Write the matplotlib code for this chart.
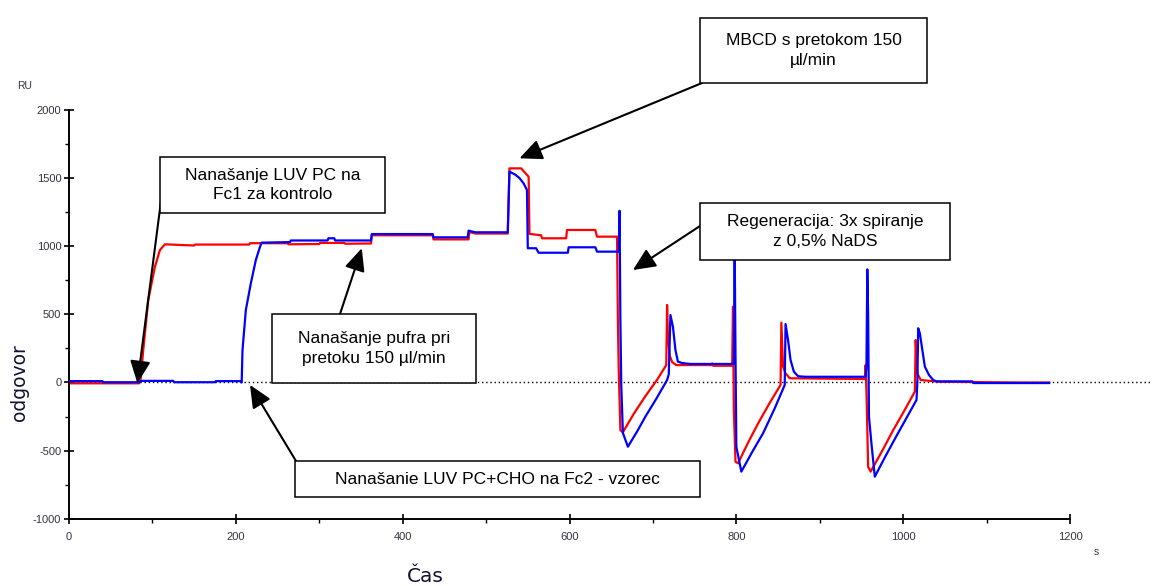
import matplotlib
matplotlib.use("Agg")
import matplotlib.pyplot as plt
from matplotlib.patches import Rectangle
from matplotlib.ticker import MultipleLocator

plt.rcParams["axes.unicode_minus"] = False

W, H = 1152, 586

# sensorgram, Fc1 (kontrola) - red
red_t = [0, 84, 86, 89, 95, 103, 109, 115, 150, 151, 216, 217, 262, 263, 300, 301,
         330, 331, 362, 363, 436, 437, 479, 480, 487, 526, 528, 542, 551, 552,
         566, 567, 596, 597, 631, 633, 657, 658, 659, 661, 664, 677, 691, 705,
         716, 717, 718, 720, 723, 728, 770, 771, 772, 795, 796, 797, 799, 802,
         815, 827, 840, 853, 854, 856, 859, 864, 954, 955, 956, 958, 961, 975,
         988, 1002, 1014, 1015, 1017, 1021, 1043, 1100, 1140, 1175]
red_v = [-6, -6, 30, 238, 605, 849, 972, 1014, 1005, 1012, 1012, 1022, 1022, 1014,
         1016, 1024, 1024, 1018, 1020, 1080, 1080, 1050, 1050, 1105, 1093, 1093,
         1571, 1571, 1510, 1090, 1080, 1058, 1058, 1119, 1119, 1070, 1070, 460,
         92, -350, -365, -230, -100, 20, 128, 569, 348, 200, 150, 128, 128, 140,
         123, 123, 556, -202, -581, -593, -430, -290, -150, -18, 439, 116, 67,
         31, 26, 128, -67, -618, -654, -500, -350, -200, -67, 312, 67, 18, 6, 2,
         0, 0]

# sensorgram, Fc2 (vzorec) - blue
blue_t = [0, 40, 41, 85, 86, 125, 126, 175, 176, 205, 207, 208, 212, 218, 224, 229,
          231, 265, 266, 310, 311, 318, 319, 362, 363, 436, 437, 478, 479, 487,
          526, 528, 535, 540, 545, 549, 550, 560, 563, 598, 599, 631, 633, 659,
          660, 661, 662, 664, 670, 681, 691, 704, 717, 719, 721, 724, 727, 730,
          735, 745, 797, 798, 799, 800, 806, 819, 832, 846, 858, 859, 862, 865,
          869, 874, 883, 955, 956, 957, 958, 959, 962, 966, 978, 991, 1004, 1016,
          1017, 1018, 1020, 1023, 1026, 1031, 1036, 1040, 1083, 1084, 1175]
blue_v = [10, 10, 2, 2, 12, 12, 2, 2, 10, 10, 0, 238, 532, 728, 899, 996, 1026,
          1030, 1042, 1042, 1058, 1058, 1042, 1042, 1089, 1089, 1065, 1065, 1114,
          1102, 1102, 1547, 1525, 1500, 1461, 1412, 985, 985, 952, 952, 992, 992,
          960, 960, 1260, 460, -10, -370, -471, -360, -250, -120, 18, 60, 495,
          409, 238, 153, 143, 136, 136, 1000, 200, -471, -654, -510, -373, -190,
          -18, 429, 312, 165, 79, 46, 42, 42, 128, 830, 500, -251, -450, -691,
          -550, -403, -260, -128, 0, 398, 361, 238, 116, 55, 18, 8, 8, -4, -4]

x_ticks = [0, 200, 400, 600, 800, 1000, 1200]
y_ticks = [-1000, -500, 0, 500, 1000, 1500, 2000]

# callouts: text, box (px, top-left origin), arrow tail (px), arrow tip (data)
callouts = [
    ("MBCD s pretokom 150\nµl/min", (700, 18, 927, 83), (702, 83), (540, 1645)),
    ("Nanašanje LUV PC na\nFc1 za kontrolo", (160, 157, 385, 213), (161, 201), (82, -6)),
    ("Regeneracija: 3x spiranje\nz 0,5% NaDS", (700, 203, 950, 260), (700, 226), (676, 825)),
    ("Nanašanje pufra pri\npretoku 150 µl/min", (272, 314, 476, 383), (340, 314), (351, 985)),
    ("Nanašanie LUV PC+CHO na Fc2 - vzorec", (295, 461, 700, 497), (296, 461), (217, -18)),
]


def fx(px):
    return px / W


def fy(py):
    return 1 - py / H


fig = plt.figure(figsize=(W / 100, H / 100), dpi=100)
ax = fig.add_axes([fx(69), fy(518.8), (1070 - 69) / W, (518.8 - 109.9) / H])

ax.axhline(0, xmin=0, xmax=(W - 69) / (1070 - 69), color="black", lw=1.0,
           ls=(0, (1, 2)), clip_on=False, zorder=1)
ax.plot(red_t, red_v, color="#ff0000", lw=1.6, zorder=2)
ax.plot(blue_t, blue_v, color="#0000ff", lw=1.6, zorder=3)

ax.set_xlim(0, 1200)
ax.set_ylim(-1000, 2000)
ax.set_xticks(x_ticks)
ax.set_yticks(y_ticks)
ax.xaxis.set_minor_locator(MultipleLocator(100))
ax.yaxis.set_minor_locator(MultipleLocator(250))
for side in ["top", "right"]:
    ax.spines[side].set_visible(False)
for side in ["left", "bottom"]:
    ax.spines[side].set_linewidth(1.4)
ax.tick_params(which="major", direction="inout", length=7, width=1.2,
               labelsize=8, labelcolor="#333344")
ax.tick_params(which="minor", direction="out", length=3, width=1.0)
ax.tick_params(axis="y", which="major", pad=2)
ax.tick_params(axis="x", which="major", pad=6)
for lab in ax.get_xticklabels() + ax.get_yticklabels():
    lab.set_family("Liberation Sans")

fig.text(fx(17), fy(86), "RU", fontsize=7.5, family="Liberation Sans",
         color="#333344", va="center", ha="left")
fig.text(fx(1096), fy(552), "s", fontsize=7.5, family="Liberation Sans",
         color="#333344", va="center", ha="center")
fig.text(fx(20), fy(383), "odgovor", rotation=90, fontsize=13.5,
         family="DejaVu Sans", color="#111133", ha="center", va="center")
fig.text(fx(425), fy(577), "Čas", fontsize=14.5, family="DejaVu Sans",
         color="#111133", ha="center", va="center")

for text, (x0, y0, x1, y1), tail, tip in callouts:
    fig.patches.append(Rectangle((fx(x0), fy(y1)), fx(x1) - fx(x0), fy(y0) - fy(y1),
                                 transform=fig.transFigure, facecolor="white",
                                 edgecolor="black", lw=1.1, zorder=10))
    fig.text(fx((x0 + x1) / 2), fy((y0 + y1) / 2), text, fontsize=12.5,
             family="Liberation Sans", ha="center", va="center",
             multialignment="center", linespacing=1.35, zorder=11)
    ax.annotate("", xy=tip, xycoords="data",
                xytext=(fx(tail[0]), fy(tail[1])), textcoords="figure fraction",
                arrowprops=dict(arrowstyle="-|>,head_length=0.55,head_width=0.25",
                                mutation_scale=25, lw=1.5, color="black",
                                shrinkA=0, shrinkB=0),
                annotation_clip=False, zorder=5)

fig.savefig("out.png", dpi=100)
